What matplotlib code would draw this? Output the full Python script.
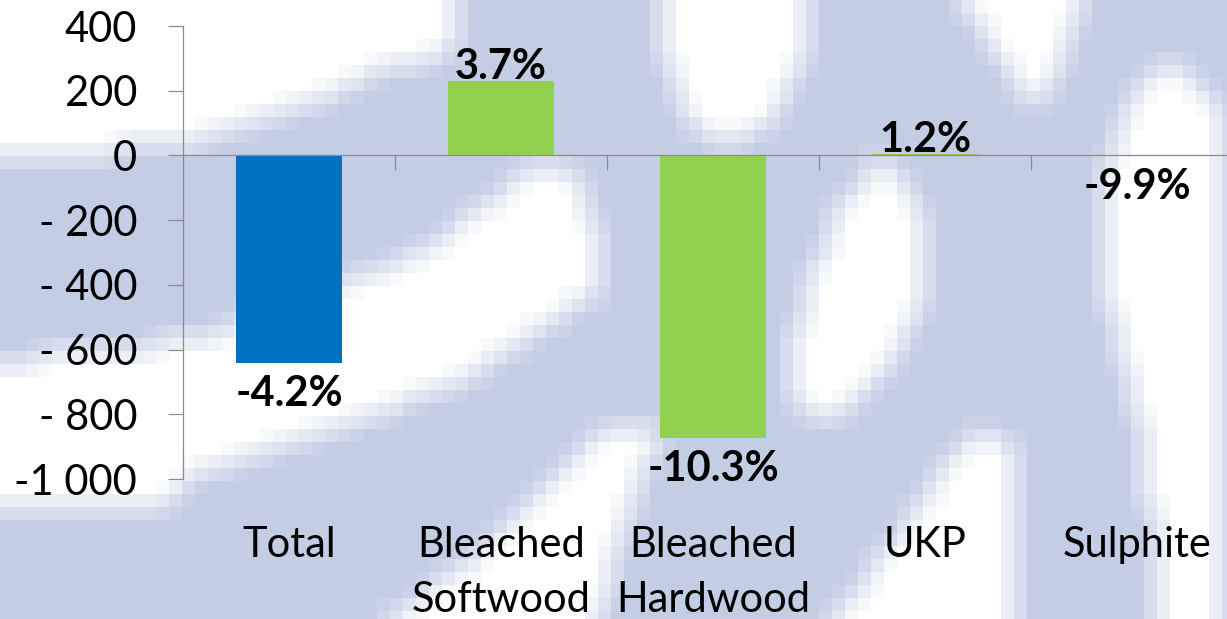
import numpy as np
import matplotlib
matplotlib.use("Agg")
import matplotlib.pyplot as plt
from matplotlib.path import Path

# chart data
categories = ['Total', 'Bleached\nSoftwood', 'Bleached\nHardwood', 'UKP', 'Sulphite']
values = [-640, 229, -872, 5, -3]
pct_labels = ['-4.2%', '3.7%', '-10.3%', '1.2%', '-9.9%']
bar_colors = ['#0070C0', '#92D050', '#92D050', '#92D050', '#92D050']
ytick_values = [400, 200, 0, -200, -400, -600, -800, -1000]
ytick_labels = ['400', '200', '0', '- 200', '- 400', '- 600', '- 800', '-1 000']

# white shapes of the pixelated backdrop (pixel coords, y down)
bg_white_shapes = [
    [(0, 0), (455, 0), (455, 55), (420, 60), (367, 75), (300, 108), (200, 140), (100, 152), (0, 158)],
    [(0, 362), (100, 352), (200, 338), (290, 305), (340, 285), (420, 255), (500, 195), (540, 165),
     (575, 172), (595, 230), (600, 290), (540, 330), (470, 378), (400, 405), (340, 425),
     (267, 452), (200, 475), (160, 505), (0, 510)],
    [(600, 430), (665, 430), (640, 470), (620, 540), (600, 619), (390, 619), (470, 560), (560, 480)],
    [(660, 0), (805, 0), (800, 70), (770, 120), (725, 150), (690, 120), (665, 60)],
    [(960, 0), (1082, 0), (1060, 60), (1035, 110), (1010, 75), (985, 30)],
    [(880, 158), (925, 215), (925, 300), (880, 380), (835, 425), (798, 400), (800, 300), (840, 210)],
    [(975, 430), (1010, 440), (1012, 619), (835, 619)],
    [(1165, 62), (1227, 110), (1227, 619), (1160, 619), (1145, 450), (1110, 300), (1108, 160), (1135, 95)],
]

plt.rcParams['font.family'] = ['Lato', 'DejaVu Sans']
axis_gray = '#8C8C8C'
W, H = 1227, 619

fig = plt.figure(figsize=(W / 100, H / 100), dpi=100)

# backdrop: coarse raster of the white shapes on light blue
cell = 13
ny, nx = H // cell + 1, W // cell + 1
xc = (np.arange(nx) + 0.5) * cell
yc = (np.arange(ny) + 0.5) * cell
XX, YY = np.meshgrid(xc, yc)
pts = np.column_stack([XX.ravel(), YY.ravel()])
mask = np.zeros(len(pts), bool)
for shape in bg_white_shapes:
    mask |= Path(shape).contains_points(pts)
soft = mask.reshape(ny, nx).astype(float)
p = np.pad(soft, 1, mode='edge')
soft = sum(p[i:i + ny, j:j + nx] for i in range(3) for j in range(3)) / 9
blue = np.array([195, 205, 227]) / 255
white = np.array([1.0, 1.0, 1.0])
img = blue[None, None, :] * (1 - soft[..., None]) + white[None, None, :] * soft[..., None]

bg = fig.add_axes([0, 0, 1, 1], zorder=0)
bg.imshow(img, extent=[0, nx * cell, ny * cell, 0], interpolation='nearest', aspect='auto')
bg.set_xlim(0, W)
bg.set_ylim(H, 0)
bg.axis('off')

# main chart
ax = fig.add_axes([183 / W, 1 - 479 / H, 1060 / W, 453 / H], zorder=1)
ax.patch.set_alpha(0)
x = np.arange(len(categories))
ax.bar(x, values, width=0.5, color=bar_colors, zorder=2)
ax.set_xlim(-0.5, 4.5)
ax.set_ylim(-1000, 400)

for s in ['top', 'right']:
    ax.spines[s].set_visible(False)
ax.spines['bottom'].set_position(('data', 0))
for s in ['bottom', 'left']:
    ax.spines[s].set_color(axis_gray)
    ax.spines[s].set_linewidth(0.9)
    ax.spines[s].set_zorder(3)

ax.set_yticks(ytick_values, ytick_labels)
ax.tick_params(axis='y', length=11, width=0.9, color=axis_gray, pad=22, labelsize=30)
ax.set_xticks(np.arange(0.5, 4.5, 1))
ax.set_xticklabels([])
ax.tick_params(axis='x', length=11, width=0.9, color=axis_gray)

# category labels under the plot
for i, cat in enumerate(categories):
    ax.annotate(cat, xy=(i, 0), xycoords=ax.get_xaxis_transform(),
                xytext=(0, -34), textcoords='offset points',
                ha='center', va='top', fontsize=30, linespacing=1.55)

# percentage labels
for i, (v, lbl) in enumerate(zip(values, pct_labels)):
    off = 1.5 if v > 0 else -31
    ax.annotate(lbl, xy=(i, v), xytext=(0, off), textcoords='offset points',
                ha='center', va='baseline', fontsize=30, fontweight='bold', zorder=4)

fig.savefig('out.png', dpi=100)
